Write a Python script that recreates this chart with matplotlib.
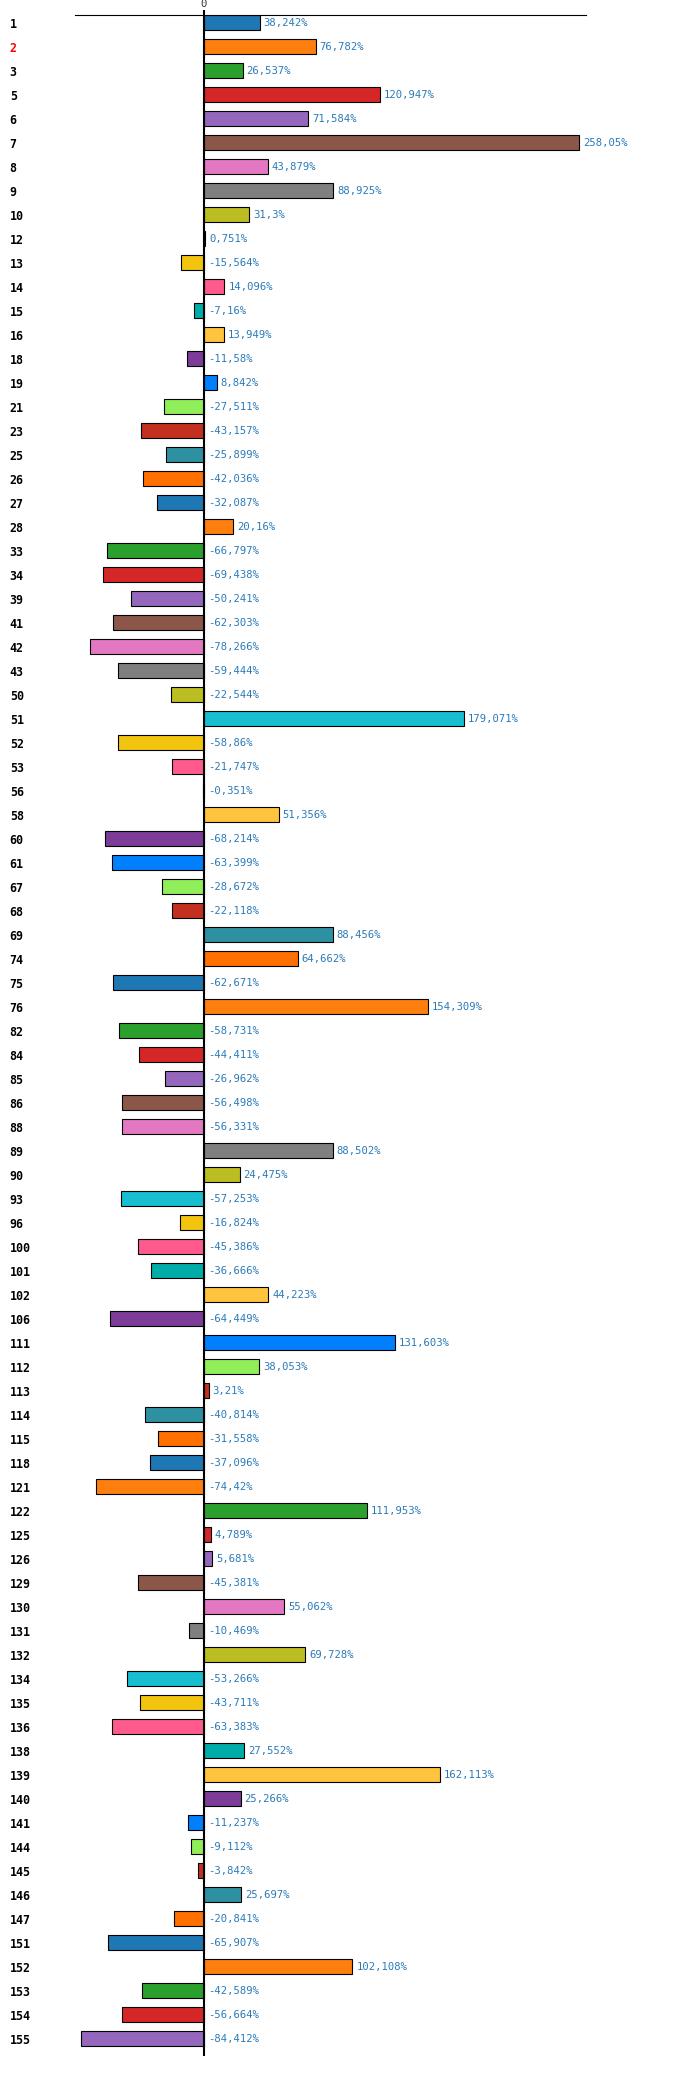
import matplotlib
matplotlib.use("Agg")
import matplotlib.pyplot as plt

# Daten
kategorier = [1, 2, 3, 5, 6, 7, 8, 9, 10, 12, 13, 14, 15, 16, 18, 19, 21, 23, 25, 26,
              27, 28, 33, 34, 39, 41, 42, 43, 50, 51, 52, 53, 56, 58, 60, 61, 67, 68, 69, 74,
              75, 76, 82, 84, 85, 86, 88, 89, 90, 93, 96, 100, 101, 102, 106, 111, 112, 113, 114, 115,
              118, 121, 122, 125, 126, 129, 130, 131, 132, 134, 135, 136, 138, 139, 140, 141, 144, 145, 146, 147,
              151, 152, 153, 154, 155]

verdier = [38.242, 76.782, 26.537, 120.947, 71.584, 258.05, 43.879, 88.925, 31.3, 0.751,
           -15.564, 14.096, -7.16, 13.949, -11.58, 8.842, -27.511, -43.157, -25.899, -42.036,
           -32.087, 20.16, -66.797, -69.438, -50.241, -62.303, -78.266, -59.444, -22.544, 179.071,
           -58.86, -21.747, -0.351, 51.356, -68.214, -63.399, -28.672, -22.118, 88.456, 64.662,
           -62.671, 154.309, -58.731, -44.411, -26.962, -56.498, -56.331, 88.502, 24.475, -57.253,
           -16.824, -45.386, -36.666, 44.223, -64.449, 131.603, 38.053, 3.21, -40.814, -31.558,
           -37.096, -74.42, 111.953, 4.789, 5.681, -45.381, 55.062, -10.469, 69.728, -53.266,
           -43.711, -63.383, 27.552, 162.113, 25.266, -11.237, -9.112, -3.842, 25.697, -20.841,
           -65.907, 102.108, -42.589, -56.664, -84.412]

farger = ["#1f77b4", "#ff7f0e", "#2ca02c", "#d62728", "#9467bd", "#8c564b", "#e377c2",
          "#7f7f7f", "#bcbd22", "#17becf", "#f1c40f", "#ff5a8e", "#00aca8", "#ffc43d",
          "#7d3c98", "#0080ff", "#90ee5a", "#c4301f", "#2e91a2", "#ff7000"]

merket = 2  # kategori med rød etikett

# Figur
fig = plt.figure(figsize=(7, 20.85), dpi=100)
W, H = 700, 2085
ax = fig.add_axes([75 / W, 1 - 2056 / H, (586 - 75) / W, (2056 - 15.3) / H])

pos = list(range(len(kategorier)))
bar_farger = [farger[i % len(farger)] for i in pos]
ax.barh(pos, verdier, height=0.625, color=bar_farger, edgecolor="black", linewidth=0.8, zorder=2)

ax.axvline(0, color="black", linewidth=1.5, zorder=3)

for p, v in zip(pos, verdier):
    tekst = ("%g" % v).replace(".", ",") + "%"
    x0 = max(v, 0)
    ax.annotate(tekst, (x0, p), xytext=(2.8, 0), textcoords="offset points",
                ha="left", va="center", fontsize=7.6, family="DejaVu Sans Mono",
                color="#2a7ab8")

ax.set_xlim(-88.77, 262.87)
ax.set_ylim(84.72, -0.3125)

# Akser
for s in ["left", "right", "bottom"]:
    ax.spines[s].set_visible(False)
ax.spines["top"].set_linewidth(0.8)

ax.xaxis.tick_top()
ax.set_xticks([0])
ax.set_xticklabels(["0"], fontsize=7.6, family="DejaVu Sans Mono", color="#333333")
ax.tick_params(axis="x", length=3.6, width=1.5, pad=1.2)

ax.set_yticks(pos)
ax.set_yticklabels([str(k) for k in kategorier], fontsize=8.4,
                   family="DejaVu Sans Mono", fontweight="bold")
ax.tick_params(axis="y", length=0, pad=47)
for lab, k in zip(ax.get_yticklabels(), kategorier):
    lab.set_horizontalalignment("left")
    if k == merket:
        lab.set_color("red")

fig.savefig("out.png", dpi=100)
